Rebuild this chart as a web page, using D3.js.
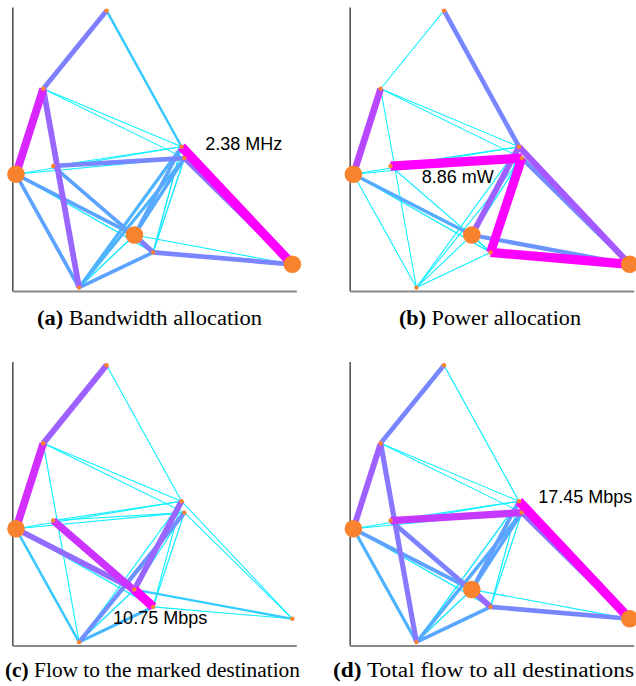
<!DOCTYPE html>
<html>
<head>
<meta charset="utf-8">
<script src="https://cdn.jsdelivr.net/npm/d3@7"></script>
<style>
  html, body { margin: 0; padding: 0; background: #fff; }
  svg { display: block; }
</style>
</head>
<body>
<svg id="chart" width="636" height="686"></svg>
<script>
// ---------- data ----------
const nodeNames = ["N1","N2","N3","N4","N5","N6","N7","N8","N9","N10"];
const nodeX = [33.2, 10.9, 1.3, 14.4, 59.6, 60.6, 43.0, 49.6, 23.5, 98.6];
const nodeY = [98.7, 71.2, 41.1, 44.0, 50.8, 46.8, 19.7, 13.6, 1.2, 9.4];

const edgeFrom = ["N1","N1","N2","N2","N2","N2","N3","N3","N3","N3","N3","N4","N4","N4","N5","N5","N5","N5","N6","N6","N6","N6","N7","N7","N7","N8","N8"];
const edgeTo   = ["N2","N5","N3","N5","N6","N9","N5","N6","N7","N8","N9","N5","N6","N8","N7","N8","N9","N10","N7","N8","N9","N10","N8","N9","N10","N9","N10"];

// relative intensity of each link (1 = the labelled maximum)
const bandwidth  = [0.50,0.22,0.85,0.05,0.05,0.60,0.07,0.07,0.36,0.08,0.36,0.05,0.47,0.36,0.35,0.10,0.30,1.00,0.33,0.10,0.30,0.55,0.50,0.10,0.06,0.36,0.48];
const power      = [0.05,0.47,0.72,0.05,0.05,0.05,0.06,0.06,0.33,0.07,0.06,0.06,1.00,0.07,0.62,0.06,0.06,0.65,0.08,0.98,0.06,0.45,0.08,0.06,0.42,0.06,1.00];
const flowMarked = [0.62,0.06,0.82,0.05,0.05,0.06,0.06,0.06,0.58,0.08,0.22,0.06,0.06,0.80,0.60,0.06,0.06,0.05,0.06,0.08,0.43,0.05,1.00,0.10,0.20,0.28,0.06];
const flowTotal  = [0.47,0.08,0.62,0.05,0.05,0.53,0.06,0.06,0.37,0.08,0.30,0.06,0.78,0.49,0.38,0.07,0.10,1.00,0.35,0.07,0.33,0.55,0.60,0.10,0.07,0.35,0.47];

const bigNodesA = ["N3","N7","N10"];
const bigNodesB = ["N3","N7","N10"];
const bigNodesC = ["N3"];
const bigNodesD = ["N3","N7","N10"];

const captionTags = ["(a)","(b)","(c)","(d)"];
const captionTexts = [" Bandwidth allocation"," Power allocation"," Flow to the marked destination"," Total flow to all destinations"];

const valueLabels = ["2.38 MHz","8.86 mW","10.75 Mbps","17.45 Mbps"];
const valueLabelX = [67.9, 25.4, 35.5, 66.4];
const valueLabelY = [51.2, 39.8, 9.2, 52.0];

// ---------- layout ----------
const svg = d3.select("#chart");
const panelW = 284, panelH = 284;
const panels = [
  {ox: 12.3, oy: 7,   vals: bandwidth,  big: bigNodesA, capX: 37,  capY: 325, capW: 225},
  {ox: 349.7, oy: 7,  vals: power,      big: bigNodesB, capX: 399, capY: 325, capW: 182},
  {ox: 12.3, oy: 361.5, vals: flowMarked, big: bigNodesC, capX: 5,   capY: 677, capW: 295},
  {ox: 349.7, oy: 361.5, vals: flowTotal, big: bigNodesD, capX: 333, capY: 677, capW: 301}
];

const x = d3.scaleLinear().domain([0,100]).range([0, panelW]);
const y = d3.scaleLinear().domain([0,100]).range([panelH, 0]);
const color = t => d3.rgb(255*t, 255*(1-t), 255).toString();
const width = d3.scaleLinear().domain([0,1]).range([0.6, 9.2]);

const nodeIndex = new Map(nodeNames.map((n,i)=>[n,i]));

panels.forEach((p, pi) => {
  const g = svg.append("g").attr("transform", `translate(${p.ox},${p.oy})`);

  // axes (spines only)
  const yAxis = d3.axisLeft(y).tickValues([]).tickSizeOuter(0);
  const xAxis = d3.axisBottom(x).tickValues([]).tickSizeOuter(0);
  g.append("g").call(yAxis).select(".domain").attr("stroke","#555").attr("stroke-width",1.6);
  g.append("g").attr("transform",`translate(0,${panelH})`).call(xAxis)
    .select(".domain").attr("stroke","#888").attr("stroke-width",2);

  const edges = edgeFrom.map((f,i)=>({f: nodeIndex.get(f), t: nodeIndex.get(edgeTo[i]), v: p.vals[i]}))
    .sort((a,b)=>a.v-b.v);

  g.selectAll("line.edge").data(edges).join("line")
    .attr("class","edge")
    .attr("x1", d=>x(nodeX[d.f])).attr("y1", d=>y(nodeY[d.f]))
    .attr("x2", d=>x(nodeX[d.t])).attr("y2", d=>y(nodeY[d.t]))
    .attr("stroke", d=>color(d.v))
    .attr("stroke-width", d=>width(d.v))
    .attr("stroke-linecap","butt");

  g.selectAll("circle.node").data(nodeNames).join("circle")
    .attr("class","node")
    .attr("cx", d=>x(nodeX[nodeIndex.get(d)]))
    .attr("cy", d=>y(nodeY[nodeIndex.get(d)]))
    .attr("r", d=> p.big.includes(d) ? 8.8 : 2.2)
    .attr("fill","#f9822e");

  g.append("text")
    .attr("x", x(valueLabelX[pi])).attr("y", y(valueLabelY[pi]))
    .attr("font-family","'Liberation Sans', Arial, sans-serif")
    .attr("font-size", 18)
    .attr("dominant-baseline","middle")
    .attr("fill","#000")
    .text(valueLabels[pi]);

  const cap = svg.append("text")
    .attr("x", p.capX).attr("y", p.capY)
    .attr("textLength", p.capW)
    .attr("lengthAdjust", "spacingAndGlyphs")
    .attr("font-family","'Liberation Serif', 'Times New Roman', serif")
    .attr("font-size", 20.5)
    .attr("fill","#000");
  cap.append("tspan").attr("font-weight","bold").text(captionTags[pi]);
  cap.append("tspan").text(captionTexts[pi]);
});
</script>
</body>
</html>
